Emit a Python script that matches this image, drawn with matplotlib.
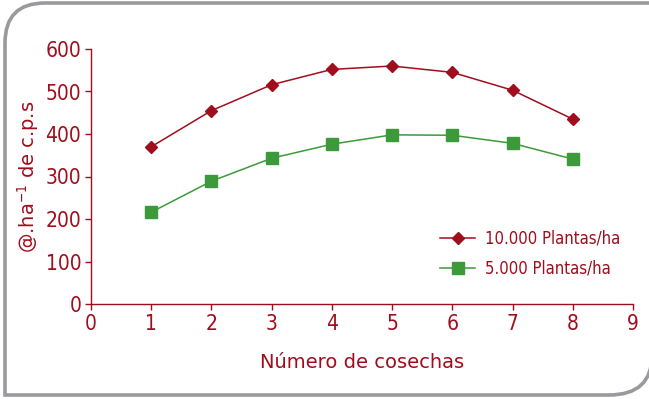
import matplotlib
matplotlib.use('Agg')
import matplotlib.pyplot as plt
from matplotlib.path import Path
from matplotlib.patches import PathPatch

plt.rcParams['font.family'] = ['DejaVu Sans']
plt.rcParams['font.stretch'] = 'condensed'

# harvest number vs. yield for both planting densities
cosechas = [1, 2, 3, 4, 5, 6, 7, 8]
plantas_10000 = [370, 455, 516, 552, 560, 545, 503, 435]
plantas_5000 = [216, 289, 343, 376, 398, 397, 378, 341]
serie_labels = ['10.000 Plantas/ha', '5.000 Plantas/ha']

rojo = '#a00d1c'
verde = '#3d9a3a'

fig = plt.figure(figsize=(6.49, 3.99), dpi=100)

# rounded frame behind the chart, drawn in pixel coordinates
bg = fig.add_axes([0, 0, 1, 1])
bg.set_xlim(0, 649)
bg.set_ylim(399, 0)
bg.axis('off')
r = 40
verts = [(660, 3), (5 + r, 3), (5, 3), (5, 3 + r), (5, 395),
         (649 - r, 395), (652, 395), (652, 395 - r)]
codes = [Path.MOVETO, Path.LINETO, Path.CURVE3, Path.CURVE3, Path.LINETO,
         Path.LINETO, Path.CURVE3, Path.CURVE3]
bg.add_patch(PathPatch(Path(verts, codes), facecolor='none',
                       edgecolor='#9a9a9e', lw=2.6, capstyle='butt'))

ax = fig.add_axes([91 / 649, 95 / 399, 542 / 649, 255 / 399])
ax.patch.set_alpha(0)
ax.plot(cosechas, plantas_10000, color=rojo, lw=1.1, marker='D', ms=6.5,
        label=serie_labels[0], clip_on=False)
ax.plot(cosechas, plantas_5000, color=verde, lw=1.1, marker='s', ms=8,
        label=serie_labels[1], clip_on=False)

ax.set_xlim(0, 9)
ax.set_ylim(0, 600)
ax.set_xticks(range(0, 10))
ax.set_yticks(range(0, 601, 100))
for s in ['top', 'right']:
    ax.spines[s].set_visible(False)
for s in ['left', 'bottom']:
    ax.spines[s].set_color(rojo)
    ax.spines[s].set_linewidth(1.0)
ax.tick_params(colors=rojo, labelsize=15, length=4, width=1.0, pad=3)

ax.set_xlabel('Número de cosechas', color=rojo, fontsize=14,
              fontstretch='normal', labelpad=14)
ax.set_ylabel('@.ha$^{-1}$ de c.p.s', color=rojo, fontsize=14,
              fontstretch='normal', labelpad=3)

leg = ax.legend(loc='upper left', bbox_to_anchor=(440 / 649, 0.425),
                bbox_transform=fig.transFigure, frameon=False,
                fontsize=12, handlelength=2.1, handletextpad=0.6,
                labelspacing=0.75, borderpad=0, borderaxespad=0)
for t in leg.get_texts():
    t.set_color(rojo)

plt.savefig('out.png', dpi=100)
